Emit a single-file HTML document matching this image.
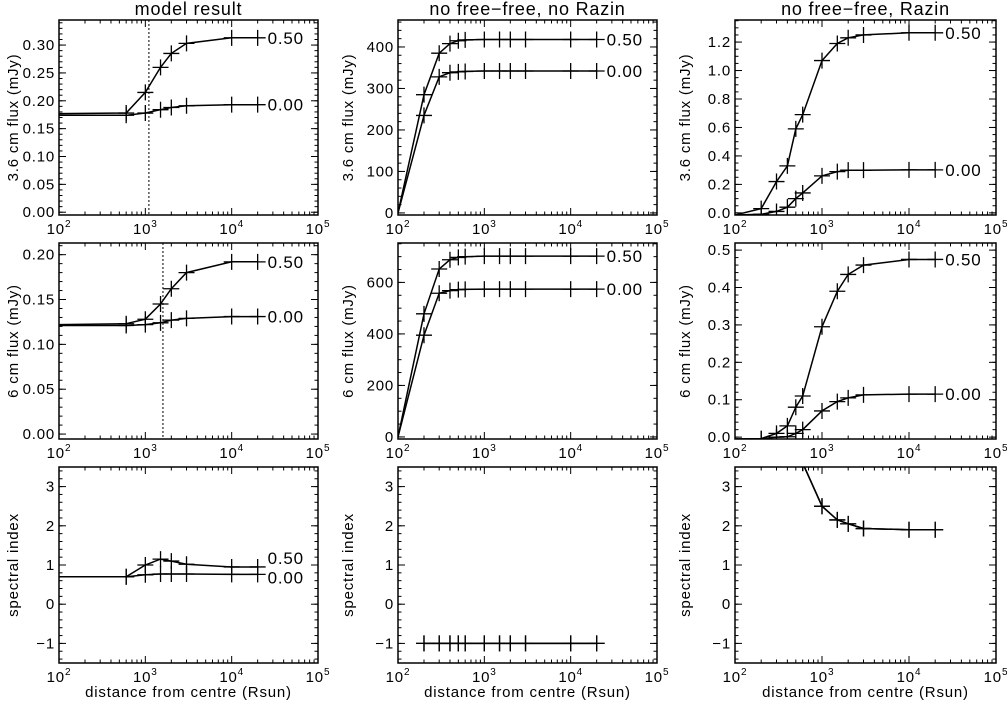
<!DOCTYPE html>
<html><head><meta charset="utf-8">
<style>
html,body{margin:0;padding:0;background:#fff;}
svg{display:block;font-family:"Liberation Sans",sans-serif;}
svg text{letter-spacing:0.8px;}
</style></head>
<body>
<svg id="fig" width="1007" height="705" viewBox="0 0 1007 705" xmlns="http://www.w3.org/2000/svg"></svg>
<script>
// ---- data ----
const xModel = [100, 600, 1000, 1500, 2000, 3000, 10000, 20000];
const m36_50 = [0.177, 0.178, 0.215, 0.260, 0.285, 0.303, 0.313, 0.313];
const m36_00 = [0.174, 0.174, 0.178, 0.184, 0.188, 0.191, 0.193, 0.193];
const m6_50 = [0.122, 0.123, 0.128, 0.145, 0.162, 0.180, 0.192, 0.192];
const m6_00 = [0.121, 0.121, 0.122, 0.124, 0.127, 0.129, 0.131, 0.131];
const mSI_50 = [0.70, 0.70, 1.00, 1.15, 1.10, 1.02, 0.95, 0.95];
const mSI_00 = [0.70, 0.70, 0.75, 0.77, 0.77, 0.77, 0.76, 0.76];

const xFull = [100, 200, 300, 400, 500, 600, 1000, 1500, 2000, 3000, 10000, 20000];
const n36_50 = [0, 285, 385, 408, 415, 417, 418, 418, 418, 418, 418, 418];
const n36_00 = [0, 235, 328, 338, 340, 341, 342, 342, 342, 342, 342, 342];
const n6_50 = [0, 478, 652, 688, 697, 700, 702, 702, 702, 702, 702, 702];
const n6_00 = [0, 395, 558, 568, 572, 573, 574, 574, 574, 574, 574, 574];
const xNoSI = [200, 300, 400, 500, 600, 1000, 1500, 2000, 3000, 10000, 20000];
const nSI = [-1, -1, -1, -1, -1, -1, -1, -1, -1, -1, -1];

const r36_50 = [-0.015, 0.03, 0.22, 0.33, 0.59, 0.69, 1.07, 1.19, 1.23, 1.25, 1.265, 1.265];
const r36_00 = [-0.015, -0.01, 0.01, 0.04, 0.10, 0.14, 0.26, 0.29, 0.30, 0.30, 0.302, 0.302];
const r6_50 = [-0.005, -0.004, 0.01, 0.03, 0.08, 0.11, 0.295, 0.39, 0.435, 0.46, 0.475, 0.475];
const r6_00 = [-0.005, -0.005, 0.0, 0.001, 0.01, 0.02, 0.07, 0.095, 0.105, 0.113, 0.115, 0.115];
const xRSI = [500, 600, 1000, 1500, 2000, 3000, 10000, 20000];
const rSI = [4.8, 3.6, 2.5, 2.15, 2.05, 1.93, 1.90, 1.90];

const colTitles = ["model result", "no free\u2212free, no Razin", "no free\u2212free, Razin"];
const rowTitles = ["3.6 cm flux (mJy)", "6 cm flux (mJy)", "spectral index"];
const xTickLabels = ["2", "3", "4", "5"];

const NS = "http://www.w3.org/2000/svg";
const svg = document.getElementById("fig");
function el(tag, attrs, parent) {
  const e = document.createElementNS(NS, tag);
  for (const k in attrs) e.setAttribute(k, attrs[k]);
  (parent || svg).appendChild(e);
  return e;
}
const cols = [[59, 318], [398, 657], [735, 996]];
const rows = [[20, 215], [243, 439], [467, 663]];

const panels = [
  {c:0,r:0,yr:[-0.005,0.345],ticks:[0,0.05,0.1,0.15,0.2,0.25,0.3],dec:2,minor:0.01,
   series:[[xModel,m36_50,"0.50",0],[xModel,m36_00,"0.00",0]],vline:1100},
  {c:0,r:1,yr:[-0.0055,0.213],ticks:[0,0.05,0.1,0.15,0.2],dec:2,minor:0.01,
   series:[[xModel,m6_50,"0.50",0],[xModel,m6_00,"0.00",0]],vline:1600},
  {c:0,r:2,yr:[-1.5,3.5],ticks:[-1,0,1,2,3],dec:0,minor:0.2,
   series:[[xModel,mSI_50,"0.50",-9],[xModel,mSI_00,"0.00",3]]},
  {c:1,r:0,yr:[-5,465],ticks:[0,100,200,300,400],dec:0,minor:20,
   series:[[xFull,n36_50,"0.50",0],[xFull,n36_00,"0.00",0]]},
  {c:1,r:1,yr:[-8,753],ticks:[0,200,400,600],dec:0,minor:50,
   series:[[xFull,n6_50,"0.50",0],[xFull,n6_00,"0.00",0]]},
  {c:1,r:2,yr:[-1.5,3.5],ticks:[-1,0,1,2,3],dec:0,minor:0.2,
   series:[[xNoSI,nSI,null,0],[xNoSI,nSI,null,0]]},
  {c:2,r:0,yr:[-0.015,1.355],ticks:[0,0.2,0.4,0.6,0.8,1.0,1.2],dec:1,minor:0.05,
   series:[[xFull,r36_50,"0.50",0],[xFull,r36_00,"0.00",0]]},
  {c:2,r:1,yr:[-0.005,0.519],ticks:[0,0.1,0.2,0.3,0.4,0.5],dec:1,minor:0.02,
   series:[[xFull,r6_50,"0.50",0],[xFull,r6_00,"0.00",0]]},
  {c:2,r:2,yr:[-1.5,3.5],ticks:[-1,0,1,2,3],dec:0,minor:0.2,
   series:[[xRSI,rSI,null,0],[xRSI,rSI,null,0]]}
];

panels.forEach((p, idx) => {
  const [x0, x1] = cols[p.c], [y0, y1] = rows[p.r];
  const g = el("g", {});
  
  
  const xs = v => x0 + (Math.log10(v) - 2) / 3 * (x1 - x0);
  const ys = v => y1 - (v - p.yr[0]) / (p.yr[1] - p.yr[0]) * (y1 - y0);
  const cid = "clip" + idx;
  const cp = el("clipPath", {id: cid}, g);
  el("rect", {x: x0, y: y0, width: x1 - x0, height: y1 - y0}, cp);
  const fr = el("rect", {x: x0, y: y0, width: x1 - x0, height: y1 - y0, fill: "none", stroke: "#000", "stroke-width": 1.5}, g);
  
  
  for (let d = 2; d <= 5; d++) {
    for (let m = 1; m <= 9; m++) {
      if (d === 5 && m > 1) break;
      const v = m * Math.pow(10, d), X = xs(v), L = m === 1 ? 7 : 3.5;
      el("line", {x1: X, x2: X, y1: y1, y2: y1 - L, stroke: "#000"}, g);
      el("line", {x1: X, x2: X, y1: y0, y2: y0 + L, stroke: "#000"}, g);
    }
    const t = el("text", {x: xs(Math.pow(10, d)), y: y1 + 19, "text-anchor": "middle", "font-size": 15}, g);
    
    
    t.appendChild(document.createTextNode("10"));
    const s = el("tspan", {dy: -7, "font-size": 10}, t);
    s.textContent = xTickLabels[d - 2];
  }
  for (let v = Math.ceil(p.yr[0] / p.minor) * p.minor; v <= p.yr[1]; v += p.minor) {
    const Y = ys(v);
    el("line", {x1: x0, x2: x0 + 3.5, y1: Y, y2: Y, stroke: "#000"}, g);
    el("line", {x1: x1, x2: x1 - 3.5, y1: Y, y2: Y, stroke: "#000"}, g);
  }
  p.ticks.forEach(v => {
    const Y = ys(v);
    el("line", {x1: x0, x2: x0 + 7, y1: Y, y2: Y, stroke: "#000"}, g);
    el("line", {x1: x1, x2: x1 - 7, y1: Y, y2: Y, stroke: "#000"}, g);
    const t = el("text", {x: x0 - 4, y: Y + 5, "text-anchor": "end", "font-size": 15}, g);
    
    
    t.textContent = (v < 0 ? "\u2212" : "") + Math.abs(v).toFixed(p.dec);
  });
  if (p.vline) {
    const vl = el("line", {x1: xs(p.vline), x2: xs(p.vline), y1: y0, y2: y1, stroke: "#000", "stroke-dasharray": "2,2"}, g);
    
    
  }
  p.series.forEach((s, si) => {
    const [xv, yv, lab, off] = s;
    const sg = el("g", {"clip-path": "url(#" + cid + ")"}, g);
    
    
    const pts = xv.map((x, i) => xs(x).toFixed(1) + "," + ys(yv[i]).toFixed(1)).join(" ");
    el("polyline", {points: pts, fill: "none", stroke: "#000", "stroke-width": 1.5}, sg);
    xv.forEach((x, i) => {
      if (x <= 100) return;
      const X = xs(x), Y = ys(yv[i]);
      const mk = el("path", {d: `M${X-8},${Y}H${X+8}M${X},${Y-8}V${Y+8}`, stroke: "#000", "stroke-width": 1.3}, sg);
      
      
    });
    if (lab) {
      const i = xv.length - 1;
      const t = el("text", {x: xs(xv[i]) + 10, y: ys(yv[i]) + 6 + off, "font-size": 17, "letter-spacing": "1.2px"}, g);
      
      
      t.textContent = lab;
    }
  });
  if (p.r === 0) {
    const t = el("text", {x: (x0 + x1) / 2, y: 15, "text-anchor": "middle", "font-size": 18, "letter-spacing": "1.5px"}, g);
    
    
    t.textContent = colTitles[p.c];
  }
  if (p.r === 2) {
    const t = el("text", {x: (x0 + x1) / 2, y: 697, "text-anchor": "middle", "font-size": 15, "letter-spacing": "1.2px"}, g);
    
    
    t.textContent = "distance from centre (Rsun)";
  }
  const lx = [18, 353, 690][p.c];
  const yt = el("text", {x: lx, y: (y0 + y1) / 2, "text-anchor": "middle", "font-size": 15,
    transform: `rotate(-90 ${lx} ${(y0 + y1) / 2})`}, g);
  
  
  yt.textContent = rowTitles[p.r];
});
</script>
</body></html>
